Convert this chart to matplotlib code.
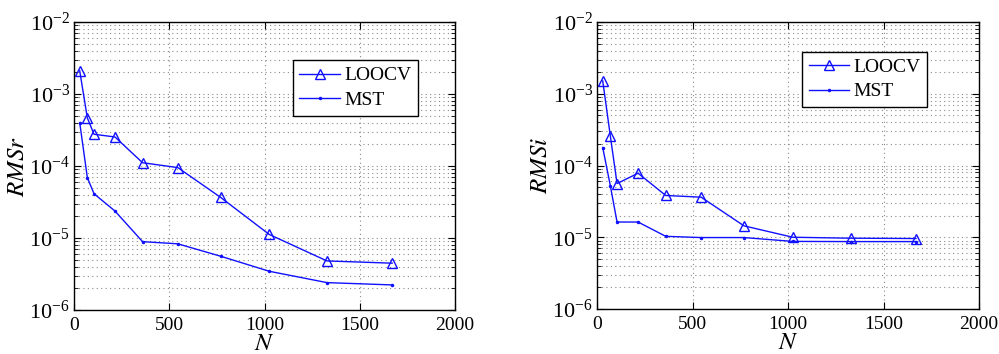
import matplotlib
matplotlib.use("Agg")
import matplotlib.pyplot as plt
from matplotlib.ticker import LogLocator, NullFormatter, FixedLocator

plt.rcParams['font.family'] = ['Liberation Serif', 'DejaVu Serif']
plt.rcParams['mathtext.fontset'] = 'stix'

N = [30, 70, 105, 215, 360, 545, 770, 1025, 1328, 1670]
rmsr_loocv = [2.1e-3, 4.66e-4, 2.76e-4, 2.53e-4, 1.11e-4, 9.5e-5, 3.66e-5, 1.12e-5, 4.8e-6, 4.47e-6]
rmsr_mst = [4.0e-4, 6.9e-5, 4.12e-5, 2.37e-5, 8.9e-6, 8.3e-6, 5.58e-6, 3.45e-6, 2.4e-6, 2.23e-6]
rmsi_loocv = [1.51e-3, 2.56e-4, 5.6e-5, 7.8e-5, 3.82e-5, 3.62e-5, 1.44e-5, 1.0e-5, 9.7e-6, 9.6e-6]
rmsi_mst = [1.78e-4, 5.2e-5, 1.63e-5, 1.63e-5, 1.03e-5, 9.9e-6, 9.9e-6, 8.75e-6, 8.7e-6, 8.7e-6]

xticks = [0, 500, 1000, 1500, 2000]
series_names = ['LOOCV', 'MST']

fig = plt.figure(figsize=(9.99, 3.54), dpi=100)
ax1 = fig.add_axes([74/999, 44/354, 381/999, 288/354])
ax2 = fig.add_axes([597/999, 45/354, 382/999, 287/354])

blue = '#1010ff'
gridc = '#8a8a8a'

def style(ax, loocv, mst, ylabel, legpos):
    ax.semilogy(N, loocv, color=blue, lw=1.0, marker='^', ms=7, mfc='none', mec=blue, mew=1.0, label=series_names[0])
    ax.semilogy(N, mst, color=blue, lw=1.0, marker='.', ms=3, label=series_names[1])
    ax.set_xlim(0, 2000)
    ax.set_ylim(1e-6, 1e-2)
    ax.xaxis.set_major_locator(FixedLocator(xticks))
    ax.yaxis.set_major_locator(LogLocator(base=10, numticks=10))
    ax.yaxis.set_minor_locator(LogLocator(base=10, subs=range(2, 10), numticks=20))
    ax.yaxis.set_minor_formatter(NullFormatter())
    ax.grid(True, which='major', axis='both', color=gridc, linestyle=(0, (1, 3)), lw=0.8)
    ax.grid(True, which='minor', axis='y', color=gridc, linestyle=(0, (1, 3)), lw=0.8)
    ax.tick_params(which='both', direction='in', top=True, right=True)
    ax.tick_params(axis='x', which='major', labelsize=14, pad=5)
    ax.tick_params(axis='y', which='major', labelsize=16, pad=3)
    ax.tick_params(which='major', length=5)
    ax.tick_params(which='minor', length=3)
    for s in ax.spines.values():
        s.set_linewidth(1.0)
    ax.set_xlabel('$N$', fontsize=18, labelpad=-1)
    ax.set_ylabel(ylabel, fontsize=18, labelpad=0)
    leg = ax.legend(loc='upper left', bbox_to_anchor=legpos, borderaxespad=0, fontsize=14,
                    fancybox=False, edgecolor='black', framealpha=1, handlelength=2.1,
                    handletextpad=0.2, borderpad=0.35, labelspacing=0.35)
    leg.get_frame().set_linewidth(1.0)

style(ax1, rmsr_loocv, rmsr_mst, '$RMSr$', (0.574, 0.868))
style(ax2, rmsi_loocv, rmsi_mst, '$RMSi$', (0.536, 0.897))

fig.savefig('out.png', dpi=100)
